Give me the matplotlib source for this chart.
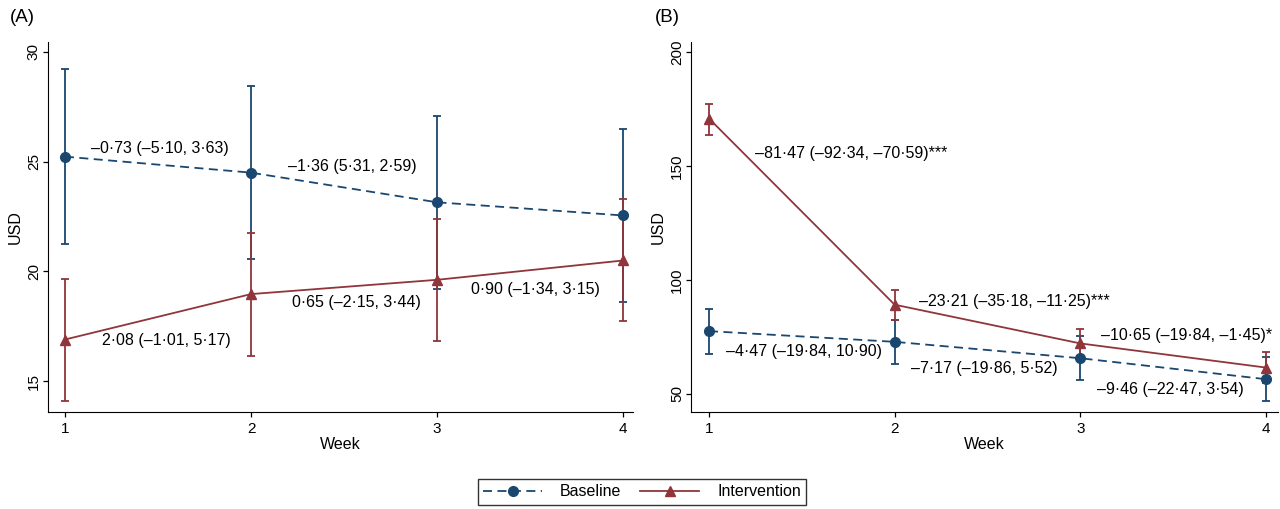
"""Weekly spending (USD) by arm, with 95% CIs and between-week differences"""

import matplotlib.pyplot as plt
from matplotlib.lines import Line2D

plt.rcParams["font.family"] = ["Liberation Sans", "DejaVu Sans"]

NAVY = "#1a476f"
MAROON = "#90353b"

weeks = [1, 2, 3, 4]

# Panel A
a_base = [25.23, 24.50, 23.15, 22.55]
a_base_lo = [21.26, 20.56, 19.20, 18.60]
a_base_hi = [29.20, 28.45, 27.09, 26.50]
a_int = [16.90, 18.97, 19.62, 20.50]
a_int_lo = [14.09, 16.17, 16.82, 17.73]
a_int_hi = [19.65, 21.74, 22.40, 23.30]
a_labels = [
    "–0·73 (–5·10, 3·63)",
    "–1·36 (5·31, 2·59)",
    "2·08 (–1·01, 5·17)",
    "0·65 (–2·15, 3·44)",
    "0·90 (–1·34, 3·15)",
]

# Panel B
b_base = [77.5, 72.8, 65.6, 56.4]
b_base_lo = [67.6, 63.2, 56.1, 46.7]
b_base_hi = [87.2, 82.6, 75.4, 66.3]
b_int = [170.8, 89.1, 72.1, 61.5]
b_int_lo = [163.7, 82.3, 65.6, 54.6]
b_int_hi = [177.4, 95.6, 78.6, 68.2]
b_labels = [
    "–81·47 (–92·34, –70·59)***",
    "–23·21 (–35·18, –11·25)***",
    "–10·65 (–19·84, –1·45)*",
    "–4·47 (–19·84, 10·90)",
    "–7·17 (–19·86, 5·52)",
    "–9·46 (–22·47, 3·54)",
]

# where each label sits (data coords, left edge / vertical centre)
a_label_pos = [(1.14, 25.58), (2.20, 24.77), (1.20, 16.86), (2.22, 18.60), (3.18, 19.17)]
b_label_pos = [(1.25, 155.5), (2.13, 90.5), (3.11, 75.7), (1.09, 68.5), (2.09, 61.2), (3.09, 51.7)]


def draw_panel(ax, base, base_lo, base_hi, inter, inter_lo, inter_hi):
    for mean, lo, hi, col, mk, ls in [
        (base, base_lo, base_hi, NAVY, "o", (0, (5, 3))),
        (inter, inter_lo, inter_hi, MAROON, "^", "-"),
    ]:
        err = [[m - l for m, l in zip(mean, lo)], [h - m for m, h in zip(mean, hi)]]
        ax.errorbar(weeks, mean, yerr=err, fmt="none", ecolor=col, elinewidth=1.3,
                    capsize=3.2, capthick=1.3, zorder=2)
        ax.plot(weeks, mean, color=col, linestyle=ls, linewidth=1.3, marker=mk,
                markersize=7, zorder=3)

    ax.spines["top"].set_visible(False)
    ax.spines["right"].set_visible(False)
    ax.set_xticks(weeks)
    ax.tick_params(axis="both", labelsize=11, length=3.6, width=0.9, colors="black")
    ax.tick_params(axis="y", labelrotation=90, pad=1.5)
    ax.tick_params(axis="x", pad=3.5)
    for lbl in ax.get_yticklabels():
        lbl.set_va("center")
    ax.set_xlabel("Week", fontsize=11.5, labelpad=1)
    ax.set_ylabel("USD", fontsize=11.5, labelpad=3)


fig = plt.figure(figsize=(12.8, 5.09), dpi=100)

axA = fig.add_axes([48 / 1280, 97 / 509, 585 / 1280, 370 / 509])
draw_panel(axA, a_base, a_base_lo, a_base_hi, a_int, a_int_lo, a_int_hi)
axA.set_xlim(0.909, 4.053)
axA.set_ylim(13.6, 30.45)
axA.set_yticks([15, 20, 25, 30])
for txt, (x, y) in zip(a_labels, a_label_pos):
    axA.text(x, y, txt, fontsize=11.5, ha="left", va="center")

axB = fig.add_axes([691 / 1280, 97 / 509, 587 / 1280, 370 / 509])
draw_panel(axB, b_base, b_base_lo, b_base_hi, b_int, b_int_lo, b_int_hi)
axB.set_xlim(0.903, 4.065)
axB.set_ylim(42, 204.4)
axB.set_yticks([50, 100, 150, 200])
for txt, (x, y) in zip(b_labels, b_label_pos):
    axB.text(x, y, txt, fontsize=11.5, ha="left", va="center")

fig.text(10 / 1280, 1 - 18 / 509, "(A)", fontsize=13.5, ha="left", va="center")
fig.text(655 / 1280, 1 - 18 / 509, "(B)", fontsize=13.5, ha="left", va="center")

handles = [
    Line2D([], [], color=NAVY, linestyle=(0, (5, 3)), linewidth=1.3, marker="o", markersize=7),
    Line2D([], [], color=MAROON, linestyle="-", linewidth=1.3, marker="^", markersize=7),
]
leg = fig.legend(handles, ["Baseline", "Intervention"], loc="center",
                 bbox_to_anchor=(642 / 1280, 1 - 492 / 509), ncol=2, fontsize=11.5,
                 frameon=True, fancybox=False, edgecolor="black", handlelength=3.7,
                 columnspacing=1.2, borderpad=0.35, handletextpad=1.1)
leg.get_frame().set_linewidth(1.0)

fig.savefig("out.png", dpi=100)
